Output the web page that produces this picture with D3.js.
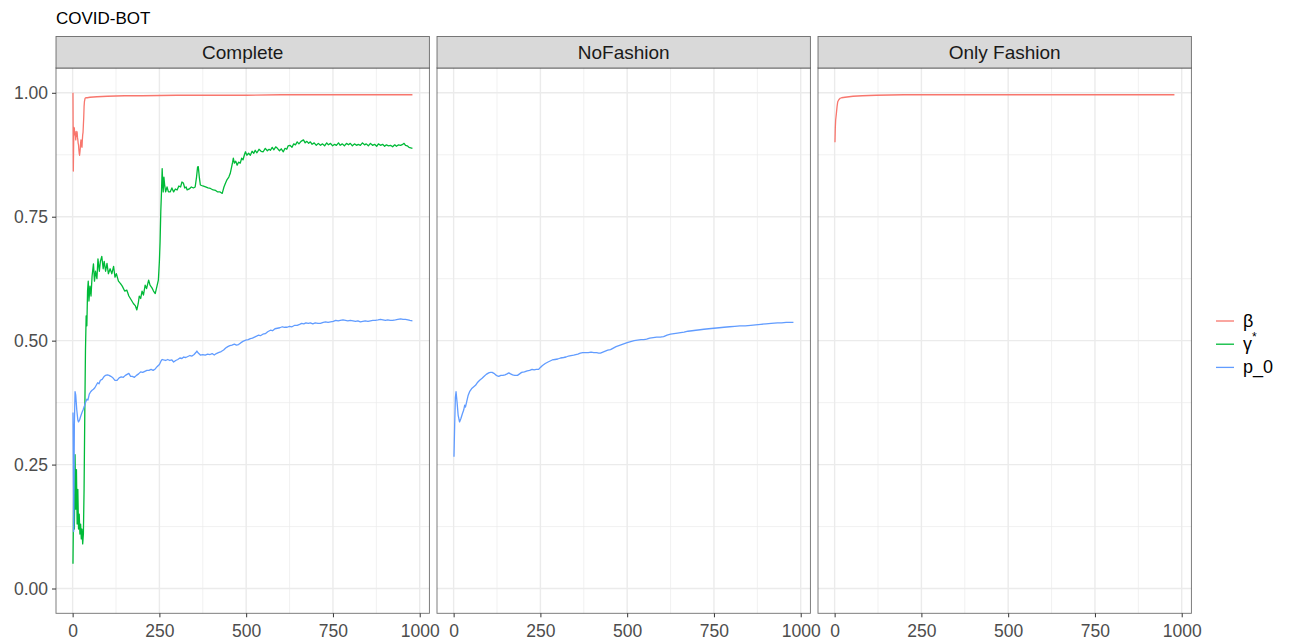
<!DOCTYPE html>
<html>
<head>
<meta charset="utf-8">
<script src="https://cdn.jsdelivr.net/npm/d3@7"></script>
<style>
  html, body { margin: 0; padding: 0; background: #ffffff; }
  svg { display: block; font-family: "Liberation Sans", Arial, Helvetica, sans-serif; }
</style>
</head>
<body>
<svg id="chart" width="1294" height="641"></svg>
<script>
// ---------------- DATA ----------------
const chartTitle = "COVID-BOT";
const panels = ["Complete", "NoFashion", "Only Fashion"];
const seriesNames = ["β", "γ*", "p_0"];
const seriesColors = ["#F8766D", "#00BA38", "#619CFF"];
const xTicks = [0, 250, 500, 750, 1000];
const xMinorTicks = [125, 375, 625, 875];
const yTicks = [0, 0.25, 0.5, 0.75, 1.0];
const yTickLabels = ["0.00", "0.25", "0.50", "0.75", "1.00"];
const yMinorTicks = [0.125, 0.375, 0.625, 0.875];
const xDataRange = [1, 979];
const yDataRange = [0, 1];

// Complete panel: beta
const betaComplete = [[1,1.0],[2,0.842],[3,0.90],[4,0.93],[5,0.928],[6,0.915],[7,0.922],[8,0.918],[9,0.905],[10,0.918],[11,0.912],[12,0.922],[13,0.92],[14,0.91],[15,0.905],[16,0.898],[17,0.895],[18,0.885],[19,0.878],[20,0.874],[21,0.88],[22,0.888],[23,0.898],[24,0.905],[25,0.9],[26,0.892],[27,0.89],[28,0.905],[29,0.915],[30,0.92],[31,0.935],[32,0.95],[33,0.972],[34,0.982],[36,0.989],[38,0.99],[42,0.99],[50,0.991],[70,0.992],[100,0.993],[150,0.994],[200,0.994],[300,0.995],[400,0.995],[500,0.995],[600,0.996],[700,0.996],[800,0.996],[900,0.996],[979,0.996]];

// Complete panel: gamma*
const gammaComplete = [[1,0.05],[3,0.19],[5,0.12],[7,0.27],[9,0.16],[11,0.24],[13,0.13],[15,0.20],[17,0.12],[19,0.15],[21,0.11],[23,0.13],[25,0.10],[27,0.12],[29,0.09],[31,0.11],[33,0.20],[35,0.35],[37,0.48],[39,0.55],[41,0.53],[43,0.60],[45,0.62],[47,0.58],[50,0.61],[53,0.59],[56,0.63],[60,0.655],[63,0.62],[66,0.64],[70,0.625],[73,0.665],[77,0.64],[80,0.66],[84,0.67],[88,0.645],[91,0.66],[95,0.64],[99,0.656],[103,0.635],[108,0.645],[113,0.635],[118,0.65],[122,0.628],[126,0.635],[132,0.62],[138,0.615],[143,0.61],[150,0.60],[156,0.602],[162,0.59],[169,0.582],[175,0.575],[181,0.57],[185,0.562],[189,0.575],[192,0.59],[196,0.585],[200,0.60],[204,0.592],[209,0.612],[213,0.605],[219,0.622],[223,0.612],[229,0.606],[233,0.60],[238,0.595],[243,0.61],[247,0.622],[250,0.66],[252,0.70],[254,0.76],[256,0.80],[258,0.847],[260,0.81],[261,0.80],[263,0.83],[265,0.815],[268,0.80],[272,0.81],[276,0.80],[281,0.80],[286,0.808],[291,0.80],[296,0.806],[301,0.804],[306,0.812],[311,0.81],[315,0.82],[319,0.818],[323,0.808],[327,0.81],[330,0.804],[336,0.806],[342,0.81],[348,0.808],[353,0.81],[357,0.83],[360,0.85],[362,0.851],[365,0.83],[368,0.814],[375,0.812],[383,0.81],[390,0.808],[397,0.807],[405,0.804],[412,0.803],[418,0.80],[425,0.80],[431,0.797],[436,0.81],[440,0.817],[445,0.825],[450,0.83],[454,0.837],[458,0.85],[461,0.86],[463,0.868],[466,0.858],[470,0.862],[474,0.854],[478,0.86],[483,0.858],[487,0.868],[491,0.865],[495,0.875],[498,0.881],[502,0.874],[507,0.878],[512,0.874],[517,0.882],[522,0.878],[526,0.884],[531,0.879],[537,0.886],[543,0.882],[549,0.881],[555,0.888],[561,0.883],[566,0.886],[570,0.884],[575,0.89],[580,0.885],[585,0.891],[590,0.888],[596,0.883],[601,0.887],[607,0.881],[612,0.888],[617,0.886],[621,0.893],[626,0.894],[632,0.89],[637,0.897],[642,0.895],[647,0.901],[652,0.897],[658,0.902],[665,0.905],[670,0.899],[675,0.902],[680,0.898],[685,0.901],[690,0.896],[696,0.899],[702,0.894],[708,0.898],[714,0.894],[720,0.897],[726,0.893],[732,0.899],[737,0.895],[743,0.898],[749,0.893],[755,0.896],[760,0.894],[766,0.899],[771,0.894],[777,0.897],[783,0.893],[789,0.898],[795,0.895],[800,0.898],[806,0.893],[812,0.897],[818,0.894],[823,0.896],[829,0.894],[835,0.899],[841,0.895],[846,0.897],[852,0.893],[858,0.898],[864,0.894],[870,0.896],[876,0.892],[881,0.897],[887,0.894],[893,0.896],[899,0.892],[904,0.895],[910,0.893],[916,0.894],[922,0.891],[928,0.895],[933,0.892],[939,0.895],[945,0.894],[951,0.896],[955,0.898],[959,0.894],[964,0.893],[969,0.89],[974,0.889],[979,0.888]];

// Complete panel: p_0
const p0Complete = [[1,0.355],[3,0.115],[5,0.33],[7,0.397],[9,0.39],[12,0.36],[15,0.34],[17,0.336],[20,0.34],[23,0.347],[27,0.355],[30,0.36],[33,0.366],[37,0.375],[41,0.382],[44,0.38],[48,0.392],[52,0.397],[56,0.40],[60,0.402],[64,0.405],[68,0.41],[72,0.415],[76,0.413],[80,0.42],[85,0.422],[90,0.427],[95,0.43],[100,0.431],[105,0.43],[110,0.428],[116,0.425],[122,0.42],[128,0.42],[134,0.425],[140,0.427],[146,0.426],[152,0.43],[157,0.432],[162,0.434],[167,0.428],[172,0.428],[178,0.426],[184,0.43],[190,0.433],[196,0.437],[202,0.436],[208,0.438],[214,0.44],[220,0.44],[226,0.442],[232,0.44],[238,0.443],[244,0.448],[250,0.452],[254,0.458],[258,0.462],[262,0.461],[268,0.46],[274,0.462],[280,0.46],[286,0.461],[291,0.457],[297,0.46],[303,0.462],[309,0.465],[315,0.464],[320,0.467],[326,0.466],[332,0.468],[338,0.47],[344,0.469],[350,0.472],[355,0.476],[358,0.479],[362,0.475],[368,0.471],[375,0.472],[382,0.471],[389,0.473],[396,0.472],[402,0.474],[408,0.471],[414,0.474],[420,0.476],[428,0.478],[435,0.481],[441,0.485],[447,0.488],[453,0.49],[459,0.491],[466,0.493],[472,0.491],[478,0.492],[485,0.496],[492,0.499],[499,0.501],[506,0.502],[512,0.504],[518,0.505],[524,0.507],[530,0.509],[535,0.511],[541,0.51],[548,0.513],[555,0.514],[562,0.518],[570,0.521],[576,0.52],[583,0.524],[590,0.525],[597,0.526],[604,0.528],[611,0.527],[618,0.527],[625,0.529],[632,0.528],[640,0.531],[647,0.531],[654,0.533],[660,0.535],[666,0.534],[672,0.536],[679,0.535],[685,0.536],[692,0.534],[699,0.536],[707,0.535],[714,0.535],[722,0.537],[729,0.538],[736,0.537],[743,0.538],[751,0.539],[758,0.541],[765,0.54],[771,0.541],[779,0.542],[786,0.541],[793,0.54],[800,0.541],[808,0.54],[815,0.539],[822,0.54],[829,0.538],[836,0.539],[843,0.54],[851,0.539],[858,0.54],[865,0.541],[872,0.541],[880,0.542],[887,0.543],[894,0.542],[901,0.541],[908,0.542],[915,0.541],[922,0.541],[930,0.542],[937,0.543],[945,0.544],[952,0.543],[959,0.543],[966,0.542],[972,0.541],[979,0.540]];

// NoFashion panel: p_0
const p0NoFashion = [[1,0.266],[3,0.33],[5,0.385],[7,0.397],[10,0.375],[13,0.35],[17,0.336],[21,0.343],[25,0.352],[29,0.36],[32,0.37],[34,0.366],[38,0.378],[42,0.39],[46,0.397],[50,0.401],[53,0.404],[58,0.407],[63,0.41],[68,0.415],[75,0.42],[82,0.424],[88,0.428],[94,0.432],[101,0.435],[106,0.436],[111,0.436],[116,0.434],[121,0.431],[126,0.429],[130,0.428],[136,0.43],[142,0.43],[148,0.431],[154,0.433],[159,0.435],[164,0.433],[170,0.431],[176,0.43],[184,0.43],[190,0.433],[196,0.436],[204,0.437],[212,0.439],[219,0.44],[226,0.442],[232,0.441],[238,0.442],[245,0.442],[250,0.446],[256,0.45],[264,0.454],[272,0.457],[278,0.459],[284,0.461],[292,0.462],[300,0.463],[308,0.465],[317,0.466],[324,0.467],[331,0.469],[338,0.47],[346,0.471],[352,0.472],[358,0.473],[365,0.475],[372,0.476],[380,0.476],[388,0.476],[396,0.477],[404,0.476],[412,0.476],[418,0.475],[423,0.475],[430,0.477],[437,0.479],[444,0.481],[452,0.482],[460,0.485],[468,0.488],[476,0.49],[484,0.492],[492,0.494],[500,0.496],[510,0.498],[520,0.5],[530,0.501],[540,0.502],[548,0.502],[556,0.503],[565,0.505],[575,0.506],[585,0.507],[595,0.507],[605,0.508],[615,0.511],[625,0.513],[635,0.514],[645,0.515],[654,0.516],[664,0.517],[675,0.519],[687,0.52],[698,0.521],[710,0.522],[721,0.523],[735,0.524],[750,0.525],[765,0.526],[779,0.527],[795,0.528],[810,0.529],[825,0.53],[840,0.53],[856,0.531],[870,0.532],[885,0.533],[900,0.534],[915,0.535],[933,0.536],[945,0.536],[958,0.537],[968,0.537],[979,0.537]];

// Only Fashion panel: beta
const betaOnlyFashion = [[1,0.90],[2,0.93],[3,0.945],[5,0.958],[7,0.972],[9,0.982],[12,0.986],[16,0.989],[20,0.990],[30,0.991],[53,0.993],[80,0.994],[120,0.995],[200,0.996],[300,0.996],[500,0.996],[700,0.996],[900,0.996],[979,0.996]];

// which series appear in which panel (indices into seriesNames)
const panelSeries = [
  [[0, betaComplete], [1, gammaComplete], [2, p0Complete]],
  [[2, p0NoFashion]],
  [[0, betaOnlyFashion]]
];

// ---------------- LAYOUT ----------------
const svg = d3.select("#chart");
const panelLeft = 56, panelW = 373.4, panelGap = 7.6;
const stripTop = 36.5, stripBottom = 68, panelBottom = 613.3;
const gridCol = "#EBEBEB", borderCol = "#333333";

const xSpan = xDataRange[1] - xDataRange[0];
const xDomain = [xDataRange[0] - 0.05 * xSpan, xDataRange[1] + 0.05 * xSpan];
const ySpan = yDataRange[1] - yDataRange[0];
const yDomain = [yDataRange[0] - 0.05 * ySpan, yDataRange[1] + 0.05 * ySpan];

const y = d3.scaleLinear().domain(yDomain).range([panelBottom, stripBottom]);

// Title
svg.append("text")
  .attr("x", panelLeft).attr("y", 24)
  .attr("font-size", 17).attr("fill", "#000")
  .text(chartTitle);

panels.forEach((name, i) => {
  const x0 = panelLeft + i * (panelW + panelGap);
  const x = d3.scaleLinear().domain(xDomain).range([x0, x0 + panelW]);
  const g = svg.append("g");

  // panel background
  g.append("rect").attr("x", x0).attr("y", stripBottom)
    .attr("width", panelW).attr("height", panelBottom - stripBottom).attr("fill", "#fff");

  // minor grid
  g.selectAll(".ymin").data(yMinorTicks).enter().append("line")
    .attr("x1", x0).attr("x2", x0 + panelW)
    .attr("y1", d => y(d)).attr("y2", d => y(d))
    .attr("stroke", gridCol).attr("stroke-width", 0.7);
  g.selectAll(".xmin").data(xMinorTicks).enter().append("line")
    .attr("y1", stripBottom).attr("y2", panelBottom)
    .attr("x1", d => x(d)).attr("x2", d => x(d))
    .attr("stroke", gridCol).attr("stroke-width", 0.7);
  // major grid
  g.selectAll(".ymaj").data(yTicks).enter().append("line")
    .attr("x1", x0).attr("x2", x0 + panelW)
    .attr("y1", d => y(d)).attr("y2", d => y(d))
    .attr("stroke", gridCol).attr("stroke-width", 1.4);
  g.selectAll(".xmaj").data(xTicks).enter().append("line")
    .attr("y1", stripBottom).attr("y2", panelBottom)
    .attr("x1", d => x(d)).attr("x2", d => x(d))
    .attr("stroke", gridCol).attr("stroke-width", 1.4);

  // lines
  const line = d3.line().x(d => x(d[0])).y(d => y(d[1]));
  panelSeries[i].forEach(([si, data]) => {
    g.append("path").datum(data)
      .attr("d", line)
      .attr("fill", "none")
      .attr("stroke", seriesColors[si])
      .attr("stroke-width", 1.3)
      .attr("stroke-linejoin", "round");
  });

  // panel border
  g.append("rect").attr("x", x0).attr("y", stripBottom)
    .attr("width", panelW).attr("height", panelBottom - stripBottom)
    .attr("fill", "none").attr("stroke", borderCol).attr("stroke-width", 0.9).attr("stroke-opacity", 0.7);

  // strip
  g.append("rect").attr("x", x0).attr("y", stripTop)
    .attr("width", panelW).attr("height", stripBottom - stripTop)
    .attr("fill", "#D9D9D9").attr("stroke", borderCol).attr("stroke-width", 0.9).attr("stroke-opacity", 0.7);
  g.append("text")
    .attr("x", x0 + panelW / 2).attr("y", (stripTop + stripBottom) / 2)
    .attr("text-anchor", "middle").attr("dominant-baseline", "central")
    .attr("font-size", 19).attr("fill", "#1A1A1A")
    .text(name);

  // x axis
  const xAxis = d3.axisBottom(x).tickValues(xTicks).tickSize(4).tickPadding(7).tickFormat(d3.format("d"));
  const xa = svg.append("g").attr("transform", `translate(0,${panelBottom})`).call(xAxis);
  xa.select(".domain").remove();
  xa.selectAll(".tick line").attr("stroke", borderCol);
  xa.selectAll(".tick text").attr("font-size", 17.5).attr("fill", "#4D4D4D")
    .attr("font-family", "Liberation Sans, Arial, sans-serif");
});

// y axis (first panel only)
const yAxis = d3.axisLeft(y).tickValues(yTicks).tickSize(4).tickPadding(4)
  .tickFormat((d, i) => yTickLabels[i]);
const ya = svg.append("g").attr("transform", `translate(${panelLeft},0)`).call(yAxis);
ya.select(".domain").remove();
ya.selectAll(".tick line").attr("stroke", borderCol);
ya.selectAll(".tick text").attr("font-size", 17.5).attr("fill", "#4D4D4D")
  .attr("font-family", "Liberation Sans, Arial, sans-serif");

// legend
const legX = 1216, legY0 = 321, legStep = 23.2;
const leg = svg.append("g");
seriesNames.forEach((s, i) => {
  const yy = legY0 + i * legStep;
  leg.append("line").attr("x1", legX).attr("x2", legX + 18)
    .attr("y1", yy).attr("y2", yy)
    .attr("stroke", seriesColors[i]).attr("stroke-width", 1.3);
  const t = leg.append("text").attr("x", legX + 27).attr("y", yy)
    .attr("dominant-baseline", "central").attr("font-size", 18).attr("fill", "#000");
  if (s === "γ*") {
    t.append("tspan").text("γ");
    t.append("tspan").attr("font-size", 12).attr("dy", -7).text("*");
  } else {
    t.text(s);
  }
});
</script>
</body>
</html>
